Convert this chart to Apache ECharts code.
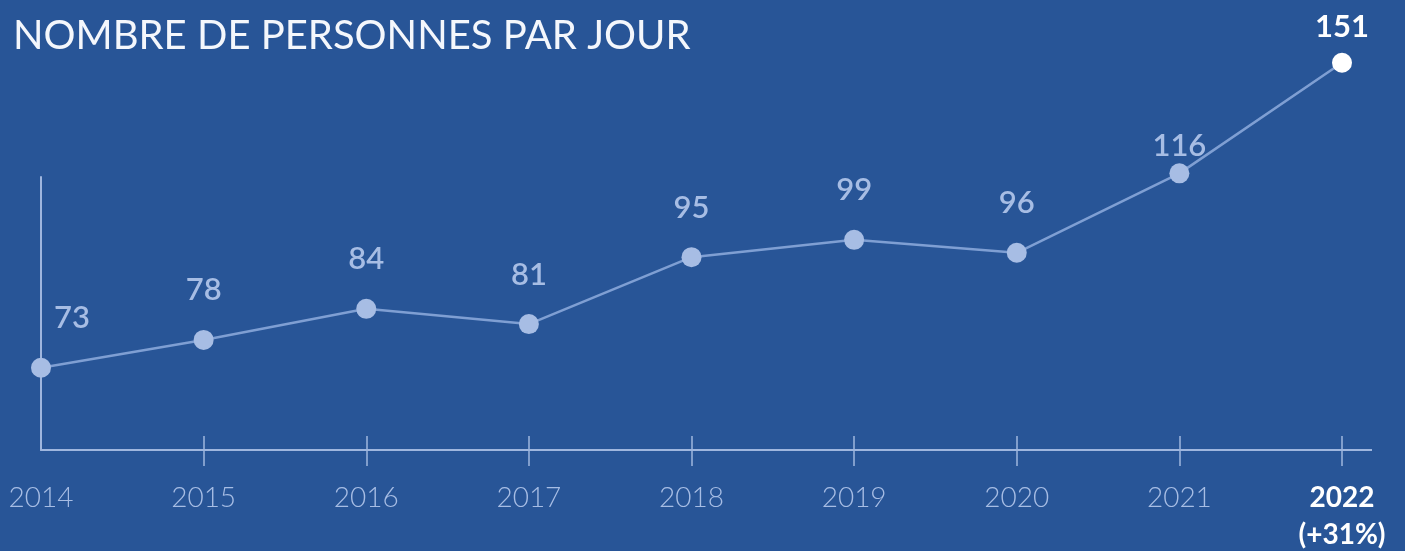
<!DOCTYPE html>
<html>
<head>
<meta charset="utf-8">
<script src="https://cdn.jsdelivr.net/npm/echarts@6/dist/echarts.min.js"></script>
<style>
  html, body { margin: 0; padding: 0; background: #285597; }
  #chart { width: 1405px; height: 551px; }
</style>
</head>
<body>
<div id="chart"></div>
<script>
// --- DONNÉES ---
const years = ["2014", "2015", "2016", "2017", "2018", "2019", "2020", "2021", "2022"];
const persons = [73, 78, 84, 81, 95, 99, 96, 116, 151];
const lastNote = "(+31%)";
const titleText = "NOMBRE DE PERSONNES PAR JOUR";

// --- COULEURS ---
const BG = "#285597";
const PALE = "#a7bde4";
const LINE = "#7f9fd3";
const AXIS = "#9fb6de";

const GRID_LEFT = 41;
const GRID_RIGHT = 63;
const GRID_TOP = 177;
const GRID_BOTTOM = 101;

const chart = echarts.init(document.getElementById("chart"));
const lastIdx = years.length - 1;

const boldLast = {
  color: "#ffffff",
  fontFamily: "Lato",
  fontWeight: "bold",
  fontSize: 28,
};

chart.setOption({
  backgroundColor: BG,
  animation: false,
  title: {
    text: titleText,
    left: 8,
    top: 11,
    textStyle: {
      color: "#f4f7fc",
      fontFamily: "Lato",
      fontWeight: 400,
      fontSize: 40,
    },
  },
  grid: {
    left: GRID_LEFT,
    right: GRID_RIGHT,
    top: GRID_TOP,
    bottom: GRID_BOTTOM,
    outerBoundsMode: "none",
  },
  xAxis: [
    {
      type: "category",
      data: years,
      boundaryGap: false,
      axisLine: { lineStyle: { color: AXIS, width: 2 } },
      axisTick: {
        inside: true,
        length: 14,
        interval: (i) => i > 0,
        lineStyle: { color: AXIS, width: 1.5 },
      },
      axisLabel: {
        margin: 34,
        color: PALE,
        fontFamily: "Lato",
        fontWeight: 300,
        fontSize: 28,
        formatter: (v, i) => (i === lastIdx ? `{a|${v}}\n{b|${lastNote}}` : v),
        rich: {
          a: { ...boldLast, lineHeight: 28 },
          b: { ...boldLast, lineHeight: 46 },
        },
      },
    },
    {
      type: "category",
      data: years,
      boundaryGap: false,
      position: "bottom",
      axisLine: { show: false },
      axisTick: {
        length: 16,
        interval: (i) => i > 0,
        lineStyle: { color: AXIS, width: 1.5 },
      },
      axisLabel: { show: false },
    },
  ],
  yAxis: {
    type: "log",
    min: 60,
    max: 115,
    axisLine: { show: true, lineStyle: { color: AXIS, width: 2 } },
    axisTick: { show: false },
    axisLabel: { show: false },
    splitLine: { show: false },
  },
  series: [
    {
      type: "line",
      clip: false,
      data: persons.map((v, i) => {
        const item = { value: v };
        if (i === 0) item.label = { offset: [31, 0] };
        if (i === 7) item.label = { distance: 2 };
        if (i === lastIdx) {
          item.itemStyle = { color: "#ffffff" };
          item.label = { distance: 10, color: "#ffffff", fontWeight: "bold" };
        }
        return item;
      }),
      symbol: "circle",
      symbolSize: 20,
      itemStyle: { color: PALE },
      lineStyle: { color: LINE, width: 2.5 },
      label: {
        show: true,
        position: "top",
        distance: 24,
        color: PALE,
        fontFamily: "Lato",
        fontWeight: 600,
        fontSize: 31,
      },
    },
  ],
});

// prolongement de l'axe des abscisses au-delà de 2022
const origin = chart.convertToPixel({ xAxisIndex: 0, yAxisIndex: 0 }, [lastIdx, 60]);
chart.setOption({
  graphic: [
    {
      type: "line",
      shape: { x1: origin[0], y1: origin[1], x2: origin[0] + 30, y2: origin[1] },
      style: { stroke: AXIS, lineWidth: 2 },
    },
  ],
});
</script>
</body>
</html>
